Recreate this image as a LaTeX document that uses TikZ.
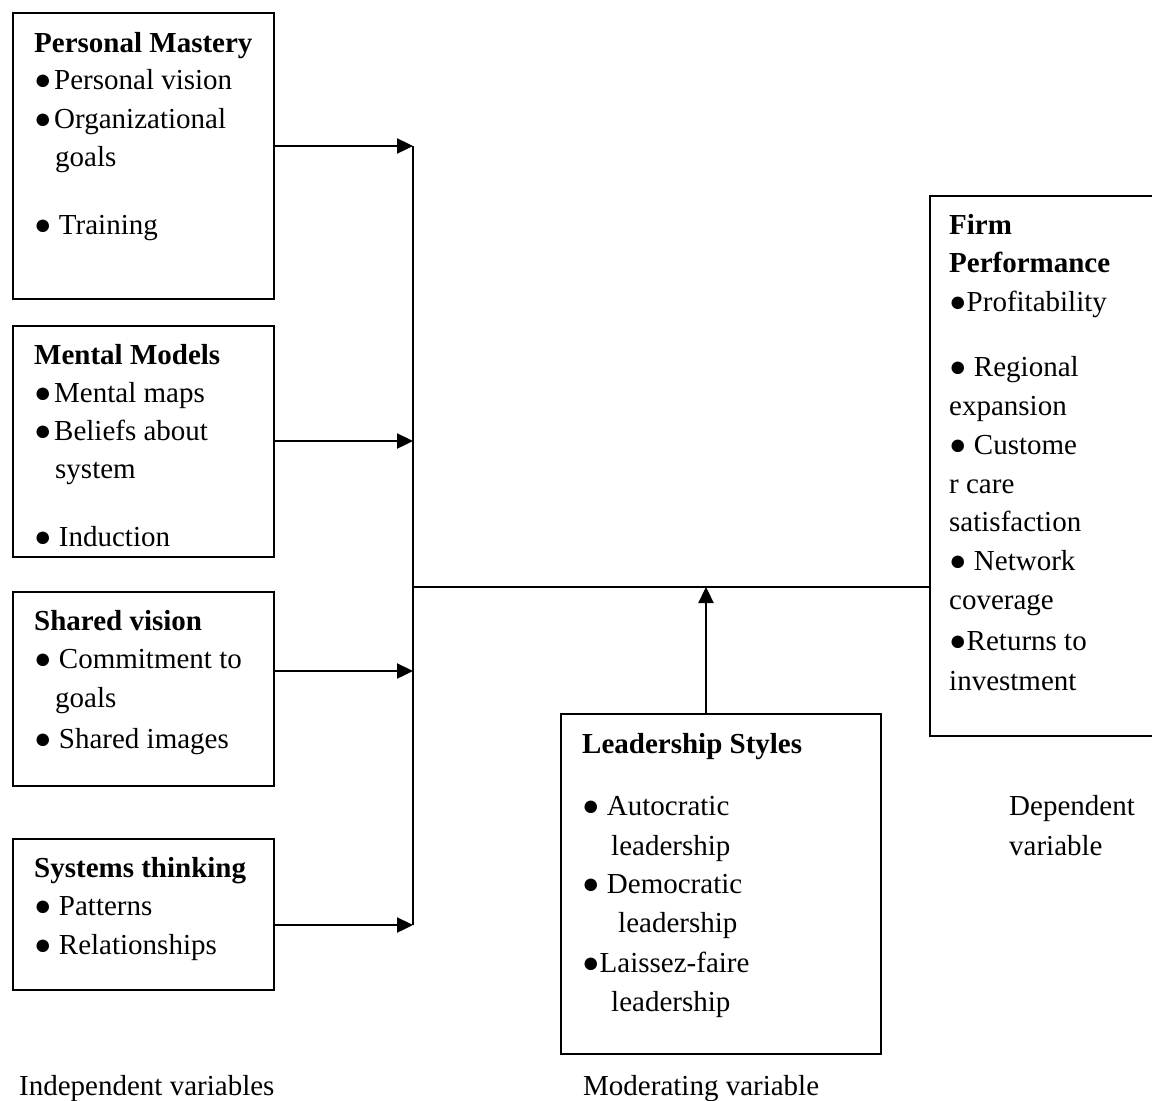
\documentclass[tikz,border=0pt]{standalone}
\usepackage{fontspec}
\setmainfont{Liberation Serif}
\usetikzlibrary{arrows.meta}
\newcommand{\txt}[4]{\node[tl] (#1) at (#2,#3+10) {#4};}
\newcommand{\bl}{●\hspace{2.5pt}}
\begin{document}
\begin{tikzpicture}[x=1pt,y=-1pt,
  box/.style={draw,line width=1.8pt,anchor=north west,inner sep=0pt},
  tl/.style={anchor=base west,inner sep=0pt,font=\fontsize{29}{39}\selectfont},
  conn/.style={line width=2.4pt},
  arr/.style={line width=2.4pt,-{Triangle[length=16pt,width=15pt]}}]
\useasboundingbox (0,0) rectangle (1152,1101);
% boxes
\node[box,minimum width=261pt,minimum height=286pt] (pm) at (12,12) {};
\node[box,minimum width=261pt,minimum height=231pt] (mm) at (12,325) {};
\node[box,minimum width=261pt,minimum height=194pt] (sv) at (12,591) {};
\node[box,minimum width=261pt,minimum height=151pt] (st) at (12,838) {};
\node[box,minimum width=240pt,minimum height=540pt] (fp) at (929,195) {};
\node[box,minimum width=320pt,minimum height=340pt] (ls) at (560,713) {};
% texts: personal mastery
\txt{a1}{34}{42}{\textbf{Personal Mastery}}
\txt{a2}{34}{79}{\bl Personal vision}
\txt{a3}{34}{118}{\bl Organizational}
\txt{a4}{55}{156}{goals}
\txt{a5}{34}{224}{● Training}
% mental models
\txt{b1}{34}{354}{\textbf{Mental Models}}
\txt{b2}{34}{392}{\bl Mental maps}
\txt{b3}{34}{430}{\bl Beliefs about}
\txt{b4}{55}{468}{system}
\txt{b5}{34}{536}{● Induction}
% shared vision
\txt{c1}{34}{620}{\textbf{Shared vision}}
\txt{c2}{34}{658}{● Commitment to}
\txt{c3}{55}{697}{goals}
\txt{c4}{34}{738}{● Shared images}
% systems thinking
\txt{d1}{34}{867}{\textbf{Systems thinking}}
\txt{d2}{34}{905}{● Patterns}
\txt{d3}{34}{944}{● Relationships}
% firm performance
\txt{e1}{949}{224}{\textbf{Firm}}
\txt{e2}{949}{262}{\textbf{Performance}}
\txt{e3}{949}{301}{●Profitability}
\txt{e4}{949}{366}{● Regional}
\txt{e5}{949}{405}{expansion}
\txt{e6}{949}{444}{● Custome}
\txt{e7}{949}{483}{r care}
\txt{e8}{949}{521}{satisfaction}
\txt{e9}{949}{560}{● Network}
\txt{e10}{949}{599}{coverage}
\txt{e11}{949}{640}{●Returns to}
\txt{e12}{949}{680}{investment}
% leadership styles
\txt{f1}{582}{743}{\textbf{Leadership Styles}}
\txt{f2}{582}{805}{● Autocratic}
\txt{f3}{611}{845}{leadership}
\txt{f4}{582}{883}{● Democratic}
\txt{f5}{618}{922}{leadership}
\txt{f6}{582}{962}{●Laissez-faire}
\txt{f7}{611}{1001}{leadership}
% captions
\txt{g1}{19}{1085}{Independent variables}
\txt{g2}{583}{1085}{Moderating variable}
\txt{g3}{1009}{805}{Dependent}
\txt{g4}{1009}{845}{variable}
% connectors
\coordinate (j1) at (413,146);
\coordinate (j2) at (413,441);
\coordinate (j3) at (413,671);
\coordinate (j4) at (413,925);
\coordinate (jm) at (413,587);
\coordinate (up) at (706,587);
\draw[arr] (pm.east |- j1) -- (j1);
\draw[arr] (mm.east |- j2) -- (j2);
\draw[arr] (sv.east |- j3) -- (j3);
\draw[arr] (st.east |- j4) -- (j4);
\draw[conn] (j1) -- (j4);
\draw[conn] (jm) -- (fp.west |- jm);
\draw[arr] (ls.north -| up) -- (up);
\end{tikzpicture}
\end{document}
